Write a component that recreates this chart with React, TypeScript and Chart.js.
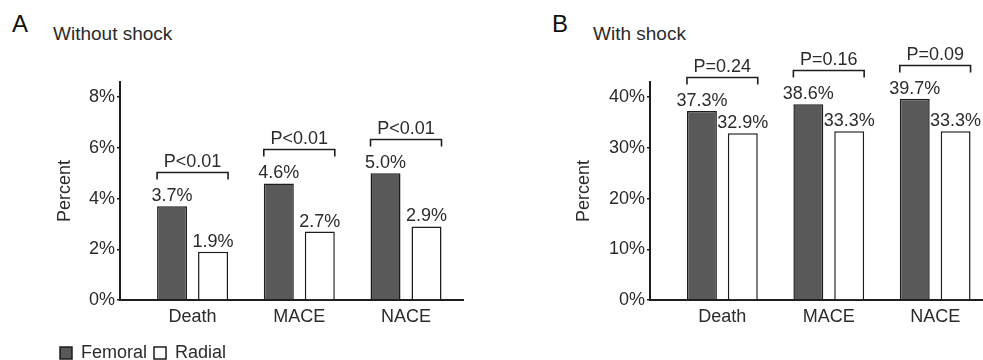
import React, { useEffect, useRef } from "react";
import { Chart, registerables } from "chart.js";

Chart.register(...registerables);

// ---- data ----
const categories = ["Death", "MACE", "NACE"];
const categoryPositions = [0, 1, 2];
const seriesNames = ["Femoral", "Radial"];
const femoralWithout = [3.7, 4.6, 5.0];
const radialWithout = [1.9, 2.7, 2.9];
const femoralWith = [37.3, 38.6, 39.7];
const radialWith = [32.9, 33.3, 33.3];
const pValuesWithout = ["P<0.01", "P<0.01", "P<0.01"];
const pValuesWith = ["P=0.24", "P=0.16", "P=0.09"];
const yTicksWithout = [0, 2, 4, 6, 8];
const yTicksWith = [0, 10, 20, 30, 40];
const yMaxWithout = 8.6;
const yMaxWith = 43;
const xMin = -0.68;
const xMax = 2.534;

// ---- style ----
const FONT = "'Liberation Sans', Arial, Helvetica, sans-serif";
const TEXT = "#2b2b2b";
const AXIS = "#1e1e1e";
const FEMORAL_FILL = "#595959";
const RADIAL_FILL = "#ffffff";
const BAR_BORDER = "#1c1c1c";

Chart.defaults.font.family = FONT;
Chart.defaults.color = TEXT;

function makeAnnotationPlugin(pValues: string[]) {
  return {
    id: "annot",
    afterDatasetsDraw(chart: any) {
      const ctx = chart.ctx;
      ctx.save();
      ctx.font = `18px ${FONT}`;
      ctx.fillStyle = TEXT;
      ctx.textAlign = "center";
      ctx.textBaseline = "alphabetic";
      chart.data.datasets.forEach((ds: any, di: number) => {
        const meta = chart.getDatasetMeta(di);
        meta.data.forEach((el: any, i: number) => {
          const v = ds.data[i].y as number;
          ctx.fillText(v.toFixed(1) + "%", el.x, el.y - 5);
        });
      });
      const m0 = chart.getDatasetMeta(0);
      const m1 = chart.getDatasetMeta(1);
      ctx.strokeStyle = AXIS;
      ctx.lineWidth = 1.6;
      pValues.forEach((p, i) => {
        const a = m0.data[i];
        const b = m1.data[i];
        if (!a || !b) return;
        const left = a.x - a.width / 2;
        const right = b.x + b.width / 2;
        const y = Math.round(Math.min(a.y, b.y) - 34) + 0.5;
        ctx.beginPath();
        ctx.moveTo(left, y + 7);
        ctx.lineTo(left, y);
        ctx.lineTo(right, y);
        ctx.lineTo(right, y + 7);
        ctx.stroke();
        ctx.fillText(p, (left + right) / 2, y - 6);
      });
      ctx.restore();
    },
  };
}

type PanelProps = {
  femoral: number[];
  radial: number[];
  pValues: string[];
  yTicks: number[];
  yMax: number;
  left: number;
  width: number;
  height: number;
  yWidth: number;
  titlePad: number;
  rightPad: number;
  xHeight: number;
  showLegend: boolean;
};

function Panel(props: PanelProps) {
  const ref = useRef<HTMLCanvasElement | null>(null);
  useEffect(() => {
    if (!ref.current) return;
    const chart = new Chart(ref.current, {
      type: "bar",
      data: {
        datasets: [
          {
            label: seriesNames[0],
            data: props.femoral.map((v, i) => ({ x: categoryPositions[i], y: v })),
            backgroundColor: FEMORAL_FILL,
            borderColor: BAR_BORDER,
            borderWidth: 1.5,
            categoryPercentage: 0.768,
            barPercentage: 0.732,
          },
          {
            label: seriesNames[1],
            data: props.radial.map((v, i) => ({ x: categoryPositions[i], y: v })),
            backgroundColor: RADIAL_FILL,
            borderColor: BAR_BORDER,
            borderWidth: 1.5,
            categoryPercentage: 0.768,
            barPercentage: 0.732,
          },
        ],
      } as any,
      options: {
        responsive: false,
        animation: false,
        events: [],
        layout: { padding: { top: 82, left: 0, right: props.rightPad, bottom: 0 } },
        scales: {
          x: {
            type: "linear",
            offset: false,
            min: xMin,
            max: xMax,
            afterBuildTicks: (s: any) => {
              s.ticks = categoryPositions.map((v) => ({ value: v }));
            },
            afterFit: (s: any) => {
              s.height = props.xHeight;
            },
            grid: { display: false, drawTicks: false, offset: false },
            border: { display: true, color: AXIS, width: 2 },
            ticks: {
              callback: (v: any) => categories[v] ?? "",
              padding: 6,
              font: { size: 18 },
              color: TEXT,
              maxRotation: 0,
              autoSkip: false,
            },
          },
          y: {
            min: 0,
            max: props.yMax,
            afterBuildTicks: (s: any) => {
              s.ticks = props.yTicks.map((v) => ({ value: v }));
            },
            afterFit: (s: any) => {
              s.width = props.yWidth;
            },
            grid: {
              display: true,
              drawOnChartArea: false,
              drawTicks: true,
              tickLength: 3,
              color: AXIS,
              lineWidth: 1.5,
            },
            border: { display: true, color: AXIS, width: 2 },
            ticks: {
              callback: (v: any) => v + "%",
              padding: 2,
              font: { size: 18 },
              color: TEXT,
            },
            title: {
              display: true,
              text: "Percent",
              font: { size: 18 },
              color: TEXT,
              padding: { top: props.titlePad, bottom: 0 },
            },
          },
        },
        plugins: {
          legend: {
            display: props.showLegend,
            position: "bottom",
            align: "start",
            labels: {
              boxWidth: 12,
              boxHeight: 12,
              padding: 7,
              font: { size: 18 },
              color: TEXT,
            },
          },
          tooltip: { enabled: false },
        },
      } as any,
      plugins: [makeAnnotationPlugin(props.pValues)],
    });
    return () => chart.destroy();
  }, []);
  return (
    <canvas
      ref={ref}
      width={props.width}
      height={props.height}
      style={{ position: "absolute", left: props.left, top: 0 }}
    />
  );
}

const letterStyle: React.CSSProperties = {
  position: "absolute",
  top: 12,
  fontSize: 24,
  lineHeight: "24px",
  fontFamily: FONT,
  color: "#111",
  whiteSpace: "nowrap",
};
const titleStyle: React.CSSProperties = {
  position: "absolute",
  top: 23.5,
  fontSize: 19,
  lineHeight: "19px",
  fontFamily: FONT,
  color: TEXT,
  whiteSpace: "nowrap",
};

export default function App() {
  return (
    <div
      style={{
        position: "fixed",
        left: 0,
        top: 0,
        width: 983,
        height: 360,
        overflow: "hidden",
        background: "#ffffff",
      }}
    >
      <div style={{ ...letterStyle, left: 12 }}>A</div>
      <div style={{ ...titleStyle, left: 53 }}>Without shock</div>
      <div style={{ ...letterStyle, left: 552 }}>B</div>
      <div style={{ ...titleStyle, left: 593 }}>With shock</div>
      <Panel
        femoral={femoralWithout}
        radial={radialWithout}
        pValues={pValuesWithout}
        yTicks={yTicksWithout}
        yMax={yMaxWithout}
        left={53}
        width={437}
        height={372}
        yWidth={67}
        titlePad={1.2}
        rightPad={27}
        xHeight={37}
        showLegend={true}
      />
      <Panel
        femoral={femoralWith}
        radial={radialWith}
        pValues={pValuesWith}
        yTicks={yTicksWith}
        yMax={yMaxWith}
        left={570}
        width={432}
        height={360}
        yWidth={80}
        titlePad={3.2}
        rightPad={10}
        xHeight={60}
        showLegend={false}
      />
    </div>
  );
}
